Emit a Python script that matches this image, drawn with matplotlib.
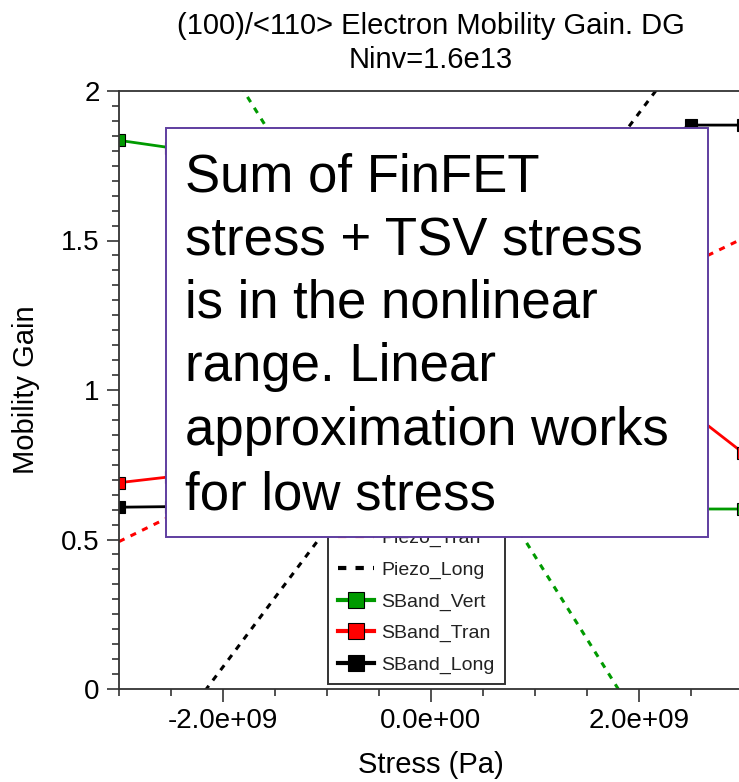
import matplotlib
matplotlib.use("Agg")
import matplotlib.pyplot as plt
from matplotlib.patches import Rectangle
from matplotlib.ticker import MultipleLocator, FuncFormatter

plt.rcParams['font.family'] = ['Liberation Sans', 'DejaVu Sans']

# ---- data ----
stress = [-3.0e9, -2.5e9, -2.0e9, -1.5e9, -1.0e9, -0.5e9, 0.0, 0.5e9, 1.0e9, 1.5e9, 2.0e9, 2.5e9, 3.0e9]
piezo_vert = [2.667, 2.389, 2.111, 1.833, 1.556, 1.278, 1.0, 0.722, 0.444, 0.167, -0.111, -0.389, -0.667]
piezo_tran = [0.493, 0.578, 0.662, 0.747, 0.831, 0.916, 1.0, 1.085, 1.169, 1.254, 1.338, 1.423, 1.507]
piezo_long = [-0.389, -0.157, 0.074, 0.306, 0.537, 0.769, 1.0, 1.231, 1.463, 1.694, 1.926, 2.157, 2.389]
sband_vert = [1.835, 1.81, 1.76, 1.65, 1.48, 1.25, 1.0, 0.82, 0.70, 0.64, 0.61, 0.602, 0.602]
sband_tran = [0.69, 0.71, 0.74, 0.78, 0.84, 0.92, 1.0, 1.06, 1.09, 1.08, 1.03, 0.925, 0.79]
sband_long = [0.608, 0.61, 0.615, 0.63, 0.67, 0.78, 1.0, 1.25, 1.48, 1.66, 1.80, 1.886, 1.886]

series_names = ['Piezo_Vert', 'Piezo_Tran', 'Piezo_Long', 'SBand_Vert', 'SBand_Tran', 'SBand_Long']
title_lines = ['(100)/<110> Electron Mobility Gain. DG', 'Ninv=1.6e13']
x_label = 'Stress (Pa)'
y_label = 'Mobility Gain'
note_lines = ['Sum of FinFET', 'stress + TSV stress', 'is in the nonlinear',
              'range. Linear', 'approximation works', 'for low stress']

GREEN = '#009a00'
RED = '#ff0000'
BLACK = '#000000'

W, H = 739, 782
fig = plt.figure(figsize=(W / 100, H / 100), dpi=100)

def fx(px):
    return px / W

def fy(py):
    return 1 - py / H

ax_left, ax_right, ax_top, ax_bot = 119, 743, 91, 689
ax = fig.add_axes([fx(ax_left), fy(ax_bot), (ax_right - ax_left) / W, (ax_bot - ax_top) / H])

dash = (0, (2.0, 2.2))
lines = []
lines += ax.plot(stress, piezo_vert, color=GREEN, lw=2.2, linestyle=dash, label=series_names[0])
lines += ax.plot(stress, piezo_tran, color=RED, lw=2.2, linestyle=dash, label=series_names[1])
lines += ax.plot(stress, piezo_long, color=BLACK, lw=2.2, linestyle=dash, label=series_names[2])
mk = dict(marker='s', markersize=8, markeredgecolor='black', markeredgewidth=0.8, lw=2.0)
lines += ax.plot(stress, sband_vert, color=GREEN, markerfacecolor=GREEN, label=series_names[3], **mk)
lines += ax.plot(stress, sband_tran, color=RED, markerfacecolor=RED, label=series_names[4], **mk)
lines += ax.plot(stress, sband_long, color=BLACK, markerfacecolor=BLACK, label=series_names[5], **mk)
clip_rect = Rectangle((0, 0), 1, 1, transform=ax.transAxes, facecolor='none', edgecolor='none')
for ln in lines:
    ln.set_clip_path(clip_rect)

ax.set_xlim(-3e9, 3e9)
ax.set_ylim(0, 2)
ax.xaxis.set_major_locator(MultipleLocator(2e9))
ax.xaxis.set_minor_locator(MultipleLocator(0.5e9))
ax.yaxis.set_major_locator(MultipleLocator(0.5))
ax.yaxis.set_minor_locator(MultipleLocator(0.05))

def xfmt(v, pos):
    if abs(v) < 1:
        return '0.0e+00'
    return '%.1e' % v

def yfmt(v, pos):
    if abs(v - round(v)) < 1e-9:
        return '%d' % round(v)
    return '%g' % v

ax.xaxis.set_major_formatter(FuncFormatter(xfmt))
ax.yaxis.set_major_formatter(FuncFormatter(yfmt))
ax.tick_params(which='major', direction='out', length=9, width=1.2, labelsize=20, pad=5, color='#333333')
ax.tick_params(which='minor', direction='out', length=5, width=1.2, color='#333333')
for s in ax.spines.values():
    s.set_linewidth(1.3)
    s.set_color('#333333')

leg = ax.legend(loc='lower left', bbox_to_anchor=((328 - ax_left) / (ax_right - ax_left), (ax_bot - 684) / (ax_bot - ax_top)),
                borderaxespad=0, fontsize=14, frameon=True, fancybox=False, edgecolor='#333333',
                framealpha=1, labelspacing=0.72, handlelength=1.85, handletextpad=0.4, borderpad=0.5,
                markerscale=1.4)
leg.get_frame().set_linewidth(1.4)
for t in leg.get_texts():
    t.set_color('#222222')
for h in leg.legend_handles:
    h.set_linewidth(3.0)

# titles and axis labels
fig.text(fx(430.5), fy(34), title_lines[0], ha='center', va='baseline', fontsize=21)
fig.text(fx(430.5), fy(68), title_lines[1], ha='center', va='baseline', fontsize=21)
fig.text(fx(430.5), fy(765), x_label, ha='center', va='center', fontsize=21)
fig.text(fx(26), fy(390), y_label, ha='center', va='center', rotation=90, fontsize=21)

# annotation box
box = Rectangle((fx(166), fy(537)), (708 - 166) / W, (537 - 128) / H, transform=fig.transFigure,
                facecolor='white', edgecolor='#5f3ea0', linewidth=1.4, zorder=5)
fig.add_artist(box)
baselines = [192, 255, 318, 381.5, 445, 509]
for line, b in zip(note_lines, baselines):
    fig.text(fx(185), fy(b), line, ha='left', va='baseline', fontsize=38, color='black', zorder=6)

fig.savefig('out.png', dpi=100)
